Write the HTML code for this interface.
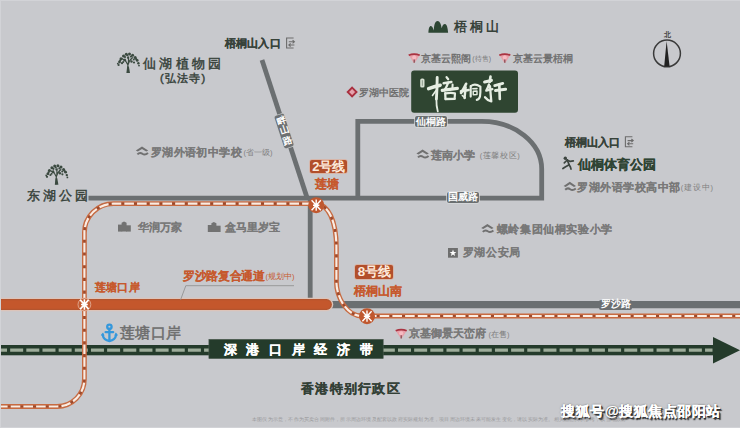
<!DOCTYPE html>
<html><head><meta charset="utf-8"><style>
html,body{margin:0;padding:0}
body{width:740px;height:428px;overflow:hidden;position:relative;background:#c8c9cd;font-family:"Liberation Sans",sans-serif}
.t{position:absolute;white-space:nowrap;line-height:1}
.lb{position:absolute;white-space:nowrap;font-weight:bold;display:flex;align-items:center;justify-content:center;line-height:1}
</style></head><body>

<svg width="740" height="428" viewBox="0 0 740 428" style="position:absolute;left:0;top:0">
 
 <!-- roads -->
 <g stroke="#6b6f71" fill="none" stroke-width="4.8">
  <path d="M88.5,198.2 L541.7,198.2 L541.7,169 A60,47.7 0 0 0 481.7,121.3 L357.8,121.3 L357.8,198.2"/>
  <path d="M262,60 L307.5,199"/>
  <path d="M310.2,198 L310.2,300"/>
 </g>
 <path d="M330,304.6 L740,304.6" stroke="#6b6f71" stroke-width="7.2"/>
 <!-- orange bar -->
 <path d="M-6,304.5 L326.5,304.5" stroke="#dcc4ba" stroke-width="13.6" stroke-linecap="round"/>
 <path d="M-6,304.5 L326.5,304.5" stroke="#b4552f" stroke-width="10.8" stroke-linecap="round"/>
 <path d="M-6,304.5 L326.5,304.5" stroke="#c4572c" stroke-width="8.4" stroke-linecap="round"/>
 <!-- green band -->
 <rect x="0" y="345" width="714" height="10.3" fill="#243b2b"/>
 <path d="M713,337 L740,350.2 L713,363.4 Z" fill="#243b2b"/>
 <path d="M0,350.2 L712.5,350.2" stroke="#9dac9a" stroke-width="3.2" stroke-dasharray="13 3.16" stroke-dashoffset="6"/>
 <rect x="208.9" y="339.3" width="174.3" height="19.3" fill="#243b2b" stroke="#4d5c50" stroke-width="0.6"/>
 <!-- metro line -->
 <g fill="none">
  <path d="M-2,406.5 L57,406.5 A27.4,27.4 0 0 0 84.4,379.1 L84.4,233 A29,29 0 0 1 113.4,203.7 L316,203.7 C328,204.5 336.4,220 336.4,248 L336.4,282 C336.4,296 346,316 362,316 L742,316" stroke="#c86a40" stroke-width="4.8"/>
  <path d="M-2,406.5 L57,406.5 A27.4,27.4 0 0 0 84.4,379.1 L84.4,233 A29,29 0 0 1 113.4,203.7 L316,203.7 C328,204.5 336.4,220 336.4,248 L336.4,282 C336.4,296 346,316 362,316 L742,316" stroke="#9c4a2e" stroke-width="2.2"/>
  <path d="M-2,406.5 L57,406.5 A27.4,27.4 0 0 0 84.4,379.1 L84.4,233 A29,29 0 0 1 113.4,203.7 L316,203.7 C328,204.5 336.4,220 336.4,248 L336.4,282 C336.4,296 346,316 362,316 L742,316" stroke="#fbece2" stroke-width="2.2" stroke-dasharray="9.6 3.1"/>
 </g>
 <g transform="translate(316.2,205.2)"><circle r="8" fill="#c0582f"/><path d="M-4.6,-5 L4.6,5 M4.6,-5 L-4.6,5 M0,-5.6 L0,5.6 M-3.2,0 L3.2,0" stroke="#fff" stroke-width="1.4" fill="none"/></g>
 <g transform="translate(367,316.2)"><circle r="8" fill="#c0582f"/><path d="M-4.6,-5 L4.6,5 M4.6,-5 L-4.6,5 M0,-5.6 L0,5.6 M-3.2,0 L3.2,0" stroke="#fff" stroke-width="1.4" fill="none"/></g>
 <circle cx="84.4" cy="304.5" r="6.4" fill="#c45d33" stroke="#e3b49e" stroke-width="0.8"/><g transform="translate(84.4,304.5)"><path d="M-4.2,-4.6 L4.2,4.6 M4.2,-4.6 L-4.2,4.6 M0,-5.2 L0,5.2 M-3.4,0 L3.4,0" stroke="#fff" stroke-width="1.6" fill="none"/></g>
 <!-- leader line for 罗沙路复合通道 -->
 <path d="M180.5,300 L185.8,285.7 L294,285.7" stroke="#8b8b8b" stroke-width="0.8" fill="none"/>
 <!-- compass -->
 <circle cx="667" cy="53.4" r="13.4" fill="none" stroke="#3a3a3a" stroke-width="1.5"/>
 <path d="M666.6,41 L669.6,66.5 L664.2,66.5 Z" fill="#222"/>
 <!-- logo box -->
 <rect x="411.2" y="70.5" width="106.8" height="42.2" rx="3" fill="#2f4531"/>

 <!-- logo calligraphy -->
 <g stroke="#e6eee3" fill="none" stroke-linecap="round" stroke-linejoin="round">
  <rect x="420.2" y="78.4" width="4.3" height="9.2" rx="1.6" fill="#d8e1d4" stroke="none"/>
  <path d="M422.35,80.6 L422.35,85.4" stroke="#7d8c7c" stroke-width="0.8"/>
  <path d="M428.6,88.6 Q434,86.6 440.2,85.2" stroke-width="3.48"/>
  <path d="M437.2,77.4 Q437.1,89 436.4,99" stroke-width="2.88"/>
  <path d="M436.4,99 Q436.2,106 437.8,111.4" stroke-width="1.80"/>
  <path d="M436,90.5 L432.5,95.5" stroke-width="1.56"/>
  <path d="M446.6,77.2 L448.2,79.2" stroke-width="2.28"/>
  <path d="M443.6,83.3 L451.4,82" stroke-width="2.40"/>
  <path d="M448.2,82.6 Q446.6,87 444.6,90.2" stroke-width="2.28"/>
  <path d="M442.2,90.4 Q450,89.2 457.4,88.4" stroke-width="3.12"/>
  <path d="M452.6,84.6 L452.4,89" stroke-width="2.04"/>
  <path d="M445.2,93.2 L445.5,99.2" stroke-width="2.28"/>
  <path d="M445.5,93.4 Q451,92.3 455,93.4 L454.6,98.8" stroke-width="2.16"/>
  <path d="M445.7,99 L454.6,98.8" stroke-width="2.28"/>
  <path d="M466.1,83.8 Q463.5,89 461,93" stroke-width="2.64"/>
  <path d="M461,91.4 L468.6,90" stroke-width="2.64"/>
  <path d="M465.7,87.2 L464.5,98" stroke-width="2.40"/>
  <path d="M462.4,95.6 L465.2,97.8" stroke-width="1.68"/>
  <path d="M470.7,86 L470.7,96.6" stroke-width="2.16"/>
  <path d="M470.9,86 Q475,83 480.4,86.6 Q480.6,92 480,96.4 Q479,99.6 476.8,99.8" stroke-width="2.16"/>
  <path d="M472.8,88.8 L477,88.6" stroke-width="1.56"/>
  <path d="M473.2,91.2 L473.3,94.7 L477,94.5 L477,91 Z" stroke-width="1.44"/>
  <path d="M484.6,81.9 L491.4,80.4" stroke-width="3.12"/>
  <path d="M490.5,76.6 L489.7,82" stroke-width="2.64"/>
  <path d="M488.9,84.6 Q487.8,88 486.3,90.6 L492.3,89.2" stroke-width="2.40"/>
  <path d="M490,86.2 Q490.6,94 491.3,101.4 Q487.5,100.5 485,97.2" stroke-width="2.28"/>
  <path d="M494.7,85.6 L502.8,83.4" stroke-width="2.76"/>
  <path d="M495.5,90.6 L505.6,89.2" stroke-width="3.00"/>
  <path d="M499.3,84.6 L499.8,99" stroke-width="2.64"/>
 </g>
 <!-- mountain icon -->
 <path d="M428.4,32.7 C428.6,28 429.5,26 430.9,26 C432.3,26 433.2,28.5 433.8,30.4 C434,24 435.5,21 437.6,21 C439.7,21 441,24 441.7,28.3 C442.3,25.5 443.5,24 445,24 C446.8,24 447.8,28 448.1,32.7 Z" fill="#2d4633"/>
 <!-- trees -->
 <g fill="#3b4a40">
  <path d="M127.6,72.8 L127.9,65 L126,61.5 L124.8,58.8 M127.9,65 L129.4,61.2 L131.5,58.4 M129.4,61.2 L132.8,57.4 M126,61.5 L122,58.6 M128.4,64 L128.6,56.5" stroke="#3b4a40" stroke-width="1.2" fill="none"/>
  <path d="M126.4,73 L130,73 L128.9,66.5 L127.2,66.5 Z"/>
  <circle cx="119.5" cy="62" r="1.4"/><circle cx="121" cy="58.8" r="1.5"/><circle cx="123.5" cy="56" r="1.5"/>
  <circle cx="126.3" cy="54.2" r="1.5"/><circle cx="129.5" cy="53.9" r="1.5"/><circle cx="132.6" cy="55.2" r="1.5"/>
  <circle cx="135.2" cy="57.6" r="1.5"/><circle cx="137.2" cy="60.4" r="1.4"/><circle cx="138.4" cy="63.3" r="1.2"/>
  <circle cx="118.6" cy="65" r="1.1"/><circle cx="124.5" cy="60" r="1.2"/><circle cx="131.5" cy="61.5" r="1.2"/>
  <circle cx="134" cy="62.5" r="1.1"/><circle cx="122" cy="63.2" r="1.1"/><circle cx="128" cy="57.8" r="1.1"/>
  <circle cx="120.2" cy="60.5" r="1.1"/><circle cx="125" cy="57" r="1.1"/><circle cx="131" cy="56.6" r="1.1"/>
  <circle cx="136.2" cy="59.2" r="1.1"/><circle cx="133.8" cy="59.6" r="1"/><circle cx="123.2" cy="62" r="1"/>
  <circle cx="139" cy="65.6" r="0.9"/><circle cx="117.8" cy="63.6" r="0.9"/><circle cx="127.4" cy="55.6" r="1"/>
 </g>
 <g transform="translate(-71.6,111.8)" fill="#3b4a40">
  <path d="M127.6,72.8 L127.9,65 L126,61.5 L124.8,58.8 M127.9,65 L129.4,61.2 L131.5,58.4 M129.4,61.2 L132.8,57.4 M126,61.5 L122,58.6 M128.4,64 L128.6,56.5" stroke="#3b4a40" stroke-width="1.2" fill="none"/>
  <path d="M126.4,73 L130,73 L128.9,66.5 L127.2,66.5 Z"/>
  <circle cx="119.5" cy="62" r="1.4"/><circle cx="121" cy="58.8" r="1.5"/><circle cx="123.5" cy="56" r="1.5"/>
  <circle cx="126.3" cy="54.2" r="1.5"/><circle cx="129.5" cy="53.9" r="1.5"/><circle cx="132.6" cy="55.2" r="1.5"/>
  <circle cx="135.2" cy="57.6" r="1.5"/><circle cx="137.2" cy="60.4" r="1.4"/><circle cx="138.4" cy="63.3" r="1.2"/>
  <circle cx="118.6" cy="65" r="1.1"/><circle cx="124.5" cy="60" r="1.2"/><circle cx="131.5" cy="61.5" r="1.2"/>
  <circle cx="134" cy="62.5" r="1.1"/><circle cx="122" cy="63.2" r="1.1"/><circle cx="128" cy="57.8" r="1.1"/>
  <circle cx="120.2" cy="60.5" r="1.1"/><circle cx="125" cy="57" r="1.1"/><circle cx="131" cy="56.6" r="1.1"/>
  <circle cx="136.2" cy="59.2" r="1.1"/><circle cx="133.8" cy="59.6" r="1"/><circle cx="123.2" cy="62" r="1"/>
  <circle cx="139" cy="65.6" r="0.9"/><circle cx="117.8" cy="63.6" r="0.9"/><circle cx="127.4" cy="55.6" r="1"/>
 </g>
 <!-- exit icons -->
 <g stroke="#6c6c6c" fill="none" stroke-width="1.1">
  <path d="M293.6,38 H286.6 V48 H293.6"/>
  <path d="M288.8,41.8 H294.4 M292.6,40.2 L294.4,41.8 L292.6,43.4"/>
  <path d="M294.4,45 H288.8 M290.6,43.4 L288.8,45 L290.6,46.6"/>
 </g>
 <g transform="translate(338.8,98.8)" stroke="#6c6c6c" fill="none" stroke-width="1.1">
  <path d="M293.6,38 H286.6 V48 H293.6"/>
  <path d="M288.8,41.8 H294.4 M292.6,40.2 L294.4,41.8 L292.6,43.4"/>
  <path d="M294.4,45 H288.8 M290.6,43.4 L288.8,45 L290.6,46.6"/>
 </g>
 <!-- runner -->
 <g stroke="#3d4540" stroke-width="1.7" fill="none" stroke-linecap="round" stroke-linejoin="round">
  <circle cx="565.3" cy="158.3" r="1.7" fill="#3d4540" stroke="none"/>
  <path d="M567.2,160 L569.2,164.8"/>
  <path d="M567.2,160 L570.2,161.4 L573.3,160.8"/>
  <path d="M567.2,160 L564.3,162.8"/>
  <path d="M569.2,164.8 L565.6,166.8 L562.9,168.5"/>
  <path d="M569.2,164.8 L570.4,167 L571,169.1"/>
 </g>
 <!-- school icons -->
 <g fill="#707070">
  <path d="M135.8,150.6 L142,146.4 L148.2,150.6 L146.2,151.6 L142,148.9 L137.8,151.6 Z"/>
  <path d="M137.4,154.4 Q139.8,151.8 142.4,153.8 Q145,155.6 148,153" stroke="#707070" stroke-width="2" fill="none"/>
 </g>
 <g transform="translate(280.6,3)" fill="#707070">
  <path d="M135.8,150.6 L142,146.4 L148.2,150.6 L146.2,151.6 L142,148.9 L137.8,151.6 Z"/>
  <path d="M137.4,154.4 Q139.8,151.8 142.4,153.8 Q145,155.6 148,153" stroke="#707070" stroke-width="2" fill="none"/>
 </g>
 <g transform="translate(427.8,35.4)" fill="#707070">
  <path d="M135.8,150.6 L142,146.4 L148.2,150.6 L146.2,151.6 L142,148.9 L137.8,151.6 Z"/>
  <path d="M137.4,154.4 Q139.8,151.8 142.4,153.8 Q145,155.6 148,153" stroke="#707070" stroke-width="2" fill="none"/>
 </g>
 <g transform="translate(345.4,77.5)" fill="#707070">
  <path d="M135.8,150.6 L142,146.4 L148.2,150.6 L146.2,151.6 L142,148.9 L137.8,151.6 Z"/>
  <path d="M137.4,154.4 Q139.8,151.8 142.4,153.8 Q145,155.6 148,153" stroke="#707070" stroke-width="2" fill="none"/>
 </g>
 <!-- building icons -->
 <g fill="#727272">
  <rect x="118" y="224.6" width="4.2" height="7"/>
  <path d="M121.6,231.6 L121.6,222.8 L124,221.6 L126.6,222.8 L126.6,231.6 Z"/>
  <rect x="126" y="225.3" width="4.8" height="6.3"/>
 </g>
 <g transform="translate(89.8,0.4)" fill="#727272">
  <rect x="118" y="224.6" width="4.2" height="7"/>
  <path d="M121.6,231.6 L121.6,222.8 L124,221.6 L126.6,222.8 L126.6,231.6 Z"/>
  <rect x="126" y="225.3" width="4.8" height="6.3"/>
 </g>
 <!-- police -->
 <rect x="448" y="248" width="9.9" height="9.7" fill="#6e6e6e"/>
 <path d="M453,249.6 L453.9,252 L456.4,252.1 L454.4,253.6 L455.1,256 L453,254.6 L450.9,256 L451.6,253.6 L449.6,252.1 L452.1,252 Z" fill="#fff"/>
 <!-- hospital -->
 <path d="M352.1,87.6 L356.5,92 L352.1,96.4 L347.7,92 Z" fill="#e6a3ad" stroke="#a9303f" stroke-width="1.9"/>
 <!-- kingkey icons -->
 <g>
  <path d="M408.4,54.6 Q414.2,52.4 420,54.6 L414.6,63 L413.8,63 Z" fill="#e7a0a9"/>
  <path d="M408.7,55.2 Q414.2,52.9 419.7,55.2" stroke="#a83442" stroke-width="1.7" fill="none"/>
  <circle cx="414.2" cy="57.6" r="2" fill="#f6bcc3"/>
  <path d="M414.2,59.6 L414.2,62.8" stroke="#7d4a50" stroke-width="1.2"/>
 </g>
 <g transform="translate(90.6,0)">
  <path d="M408.4,54.6 Q414.2,52.4 420,54.6 L414.6,63 L413.8,63 Z" fill="#e7a0a9"/>
  <path d="M408.7,55.2 Q414.2,52.9 419.7,55.2" stroke="#a83442" stroke-width="1.7" fill="none"/>
  <circle cx="414.2" cy="57.6" r="2" fill="#f6bcc3"/>
  <path d="M414.2,59.6 L414.2,62.8" stroke="#7d4a50" stroke-width="1.2"/>
 </g>
 <g transform="translate(-13,275.6)">
  <path d="M408.4,54.6 Q414.2,52.4 420,54.6 L414.6,63 L413.8,63 Z" fill="#e7a0a9"/>
  <path d="M408.7,55.2 Q414.2,52.9 419.7,55.2" stroke="#a83442" stroke-width="1.7" fill="none"/>
  <circle cx="414.2" cy="57.6" r="2" fill="#f6bcc3"/>
  <path d="M414.2,59.6 L414.2,62.8" stroke="#7d4a50" stroke-width="1.2"/>
 </g>
 <!-- anchor -->
 <g stroke="#3598dc" fill="none" stroke-width="2.3" stroke-linecap="round">
  <circle cx="109.4" cy="326.8" r="2.2"/>
  <path d="M109.4,329 L109.4,340.6"/>
  <path d="M105.6,332.2 L113.2,332.2"/>
  <path d="M102.6,334.6 Q103.6,340.2 109.4,341 Q115.2,340.2 116.2,334.6"/>
 </g>
 <path d="M100.8,335.6 L103,332.4 L104.6,335.6 Z M118,335.6 L115.8,332.4 L114.2,335.6 Z" fill="#3598dc"/>
</svg>
<div class="t" style="left:453.6px;top:20.4px;font-size:13px;color:#37423a;font-weight:900;letter-spacing:3px;-webkit-text-stroke:0.22px;-webkit-text-stroke:0px;">梧桐山</div><div class="t" style="left:421.3px;top:53.7px;font-size:10px;color:#6c6c6c;font-weight:normal;-webkit-text-stroke:0.1px;-webkit-text-stroke:0.35px;">京基云熙阁</div><div class="t" style="left:472.3px;top:55.3px;font-size:7px;color:#7a7a7a;font-weight:normal;-webkit-text-stroke:0px;">(待售)</div><div class="t" style="left:512.7px;top:53.7px;font-size:10px;color:#6c6c6c;font-weight:normal;-webkit-text-stroke:0.1px;-webkit-text-stroke:0.35px;">京基云景梧桐</div><div class="t" style="left:358.5px;top:87.6px;font-size:10px;color:#6c6c6c;font-weight:normal;-webkit-text-stroke:0.1px;-webkit-text-stroke:0.35px;">罗湖中医院</div><div class="t" style="left:224.6px;top:38.0px;font-size:11px;color:#37423a;font-weight:900;letter-spacing:0.3px;-webkit-text-stroke:0.22px;">梧桐山入口</div><div class="t" style="left:142.8px;top:58.0px;font-size:12.5px;color:#37423a;font-weight:normal;letter-spacing:3.4px;-webkit-text-stroke:0.22px;-webkit-text-stroke:0.45px;">仙湖植物园</div><div class="t" style="left:160.0px;top:72.7px;font-size:11px;color:#37423a;font-weight:normal;letter-spacing:1.2px;-webkit-text-stroke:0.22px;-webkit-text-stroke:0.45px;">(弘法寺)</div><div class="t" style="left:26.6px;top:190.1px;font-size:12.5px;color:#37423a;font-weight:normal;letter-spacing:3.3px;-webkit-text-stroke:0.22px;-webkit-text-stroke:0.45px;">东湖公园</div><div class="t" style="left:150.7px;top:146.5px;font-size:11.4px;color:#787878;font-weight:900;letter-spacing:0.45px;-webkit-text-stroke:0.05px;">罗湖外语初中学校</div><div class="t" style="left:243.4px;top:148.9px;font-size:7.5px;color:#808080;font-weight:normal;-webkit-text-stroke:0px;">(省一级)</div><div class="t" style="left:314.8px;top:177.8px;font-size:12px;color:#c6592d;font-weight:900;-webkit-text-stroke:0.1px;">莲塘</div><div class="t" style="left:431.2px;top:150.3px;font-size:10.8px;color:#787878;font-weight:900;-webkit-text-stroke:0.1px;">莲南小学</div><div class="t" style="left:479.8px;top:152.2px;font-size:7.5px;color:#808080;font-weight:normal;letter-spacing:0.6px;-webkit-text-stroke:0px;">(莲馨校区)</div><div class="t" style="left:564.7px;top:137.3px;font-size:11px;color:#37423a;font-weight:900;-webkit-text-stroke:0.22px;">梧桐山入口</div><div class="t" style="left:578.2px;top:157.5px;font-size:13px;color:#2f4434;font-weight:900;-webkit-text-stroke:0.22px;">仙桐体育公园</div><div class="t" style="left:577.3px;top:181.9px;font-size:11.4px;color:#787878;font-weight:900;letter-spacing:0.5px;-webkit-text-stroke:0.05px;">罗湖外语学校高中部</div><div class="t" style="left:680.8px;top:184.2px;font-size:7.5px;color:#808080;font-weight:normal;letter-spacing:0.8px;-webkit-text-stroke:0px;">(建设中)</div><div class="t" style="left:137.7px;top:221.5px;font-size:11px;color:#787878;font-weight:900;-webkit-text-stroke:0.05px;">华润万家</div><div class="t" style="left:225.4px;top:222.0px;font-size:11.2px;color:#787878;font-weight:900;-webkit-text-stroke:0.05px;">盒马里岁宝</div><div class="t" style="left:496.9px;top:224.1px;font-size:11.2px;color:#787878;font-weight:900;letter-spacing:0.6px;-webkit-text-stroke:0.05px;">螺岭集团仙桐实验小学</div><div class="t" style="left:462.7px;top:247.3px;font-size:11.4px;color:#787878;font-weight:900;letter-spacing:0.7px;-webkit-text-stroke:0.05px;">罗湖公安局</div><div class="t" style="left:353.5px;top:285.3px;font-size:12px;color:#c6592d;font-weight:900;-webkit-text-stroke:0.1px;">梧桐山南</div><div class="t" style="left:183.4px;top:270.4px;font-size:11.6px;color:#c6592d;font-weight:900;letter-spacing:-0.45px;-webkit-text-stroke:0.1px;">罗沙路复合通道</div><div class="t" style="left:265.4px;top:272.9px;font-size:7.5px;color:#c6592d;font-weight:normal;-webkit-text-stroke:0px;">(规划中)</div><div class="t" style="left:94.7px;top:281.7px;font-size:11.2px;color:#c6592d;font-weight:900;letter-spacing:0.3px;-webkit-text-stroke:0.1px;">莲塘口岸</div><div class="t" style="left:119.5px;top:324.8px;font-size:15px;color:#6e6e6e;font-weight:normal;letter-spacing:0.5px;-webkit-text-stroke:0.22px;-webkit-text-stroke:0.55px;">莲塘口岸</div><div class="t" style="left:409.0px;top:328.4px;font-size:11.1px;color:#787878;font-weight:900;-webkit-text-stroke:0.05px;">京基御景天峦府</div><div class="t" style="left:488.5px;top:330.8px;font-size:7.5px;color:#808080;font-weight:normal;-webkit-text-stroke:0px;">(在售)</div><div class="t" style="left:223.6px;top:342.9px;font-size:13px;color:#ffffff;font-weight:900;letter-spacing:9.7px;-webkit-text-stroke:0.22px;">深港口岸经济带</div><div class="t" style="left:301.0px;top:381.7px;font-size:13px;color:#334036;font-weight:900;letter-spacing:1.3px;-webkit-text-stroke:0.22px;">香港特别行政区</div><div class="t" style="left:561.4px;top:403.5px;font-size:14.2px;color:#ffffff;font-weight:900;letter-spacing:0.5px;-webkit-text-stroke:0.22px;text-shadow:1px 1px 0 #2a2a2a,1.6px 1.6px 1px #333,0 0 2px #555;">搜狐号@搜狐焦点邵阳站</div><div class="t" style="left:663.6px;top:30.9px;font-size:7px;color:#444;font-weight:900;-webkit-text-stroke:0px;">北</div>
<div class="lb" style="left:309.8px;top:160px;width:37.0px;height:13.0px;background:#b24f2b;color:#fdeadb;font-size:13px;border-radius:2px;box-shadow:0 0 0 0.7px #dcae9c;letter-spacing:-0.3px;">2号线</div><div class="lb" style="left:354.8px;top:265px;width:38.3px;height:14.0px;background:#b24f2b;color:#fdeadb;font-size:13.4px;border-radius:2px;box-shadow:0 0 0 0.7px #dcae9c;letter-spacing:-0.3px;">8号线</div><div class="lb" style="left:414.7px;top:116.4px;width:32.3px;height:10.2px;background:#6b6f71;color:#fff;font-size:9.6px;border-radius:2px;box-shadow:0 0 0 0.7px #d8dadb;">仙桐路</div><div class="lb" style="left:447px;top:191.9px;width:31.6px;height:11.1px;background:#6b6f71;color:#fff;font-size:10px;border-radius:2px;box-shadow:0 0 0 0.7px #d8dadb;">国威路</div><div class="lb" style="left:599px;top:299.5px;width:33.0px;height:10.0px;background:#6b6f71;color:#fff;font-size:10.4px;border-radius:2px;">罗沙路</div><div style="position:absolute;left:279px;top:113.9px;width:10.4px;height:33.5px;background:#6e7173;color:#fff;font-size:9.4px;font-weight:bold;line-height:10.2px;text-align:center;border-radius:2px;transform:rotate(-18deg);box-shadow:0 0 0 0.7px #c4c7c8;padding-top:1.1px;box-sizing:border-box">畔<br>山<br>路</div>
<div class="t" style="left:252px;top:417px;font-size:5px;color:#9a9a9c;font-weight:normal;letter-spacing:0.2px">本图仅为示意，不作为买卖合同附件，所示周边环境及配套以政府实际规划为准，项目周边环境未来可能发生变化，请以实际为准。相关信息仅供参考，以当地政府</div>
<div style="position:absolute;left:0;top:0;width:740px;height:428px;box-shadow:inset 1px 1px 0 #d2d3d7,inset 0 -1px 0 #d2d3d7"></div>
</body></html>
